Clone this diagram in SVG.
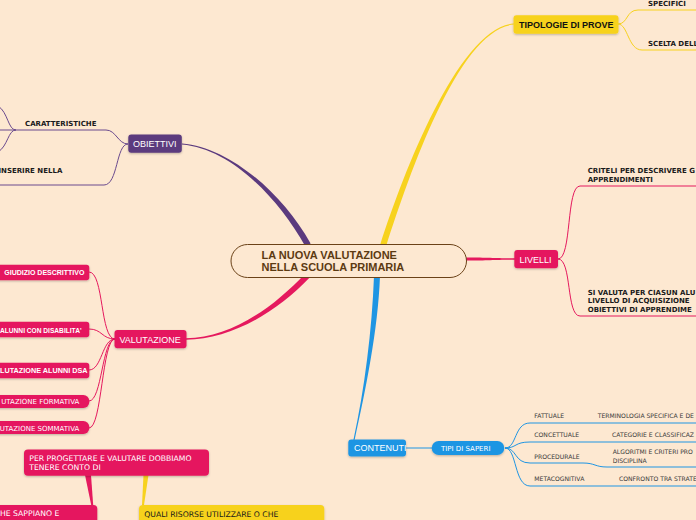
<svg xmlns="http://www.w3.org/2000/svg" width="696" height="520" viewBox="0 0 696 520">
<style>
.lbl{font-family:"Liberation Sans",Arial,sans-serif;fill:#fff;font-size:9px}
.lblb{font-family:"Liberation Sans",Arial,sans-serif;font-weight:bold;fill:#111;font-size:9px}
.sub{font-family:"DejaVu Sans",Verdana,sans-serif;font-weight:bold;font-size:7px;fill:#1a1a1a}
.ts{font-family:"DejaVu Sans",Verdana,sans-serif;font-size:6.1px;fill:#3a3a3a}
.pb{font-family:"Liberation Sans",Arial,sans-serif;font-weight:bold;font-size:7px;fill:#fff}
.pr{font-family:"DejaVu Sans",Verdana,sans-serif;font-size:7px;fill:#fff}
.big{font-family:"DejaVu Sans",Verdana,sans-serif;font-size:7.7px;fill:#fff}
.ln{fill:none;stroke-width:1}
.pk{fill:#e5195e}.pu{fill:#5b3a7e}.ye{fill:#f7d21e}.bl{fill:#1f95e3}
.spk{stroke:#e5195e}.spu{stroke:#6a4a8e}.sye{stroke:#f7d21e}.sbl{stroke:#1f95e3}
</style>
<defs>
<filter id="sh" x="-10%" y="-30%" width="120%" height="180%">
<feDropShadow dx="0" dy="1" stdDeviation="0.8" flood-color="#000" flood-opacity="0.25"/>
</filter>
</defs>
<rect width="696" height="520" fill="#fde8d1"/>
<g id="connectors">
<path class="pu" d="M310.6,243.5 C282.6,193.5 230,147.4 182,143.4 L182,144.6 C230,148.6 277.4,196.5 305.4,246.5 Z"/>
<path class="ye" d="M385.9,246.9 C410.9,168.9 460,28.6 514,24.6 L514,23.4 C460,27.4 405.1,167.1 380.1,245.1 Z"/>
<path class="pk" d="M304.8,273.9 C272.8,307.9 230,338.3 186,338.3 L186,339.7 C230,339.7 277.2,312.1 309.2,278.1 Z"/>
<path class="bl" d="M374,275.9 C372,329.9 364.4,389.9 353.4,439.9 L354.6,440.1 C365.6,390.1 378,330.1 380,276.1 Z"/>
<path class="pk" d="M466,257.5 C490,257.5 495,258.3 515,258.3 L515,259.7 C495,259.7 490,260.5 466,260.5 Z"/>
<path class="ln sye" d="M618,24 C628,24 626,10 638,10 L696,10"/>
<path class="ln sye" d="M618,24 C628,24 628,50 642,50 L696,50"/>
<path class="ln spu" d="M128,144 C118,144 116,130 106,130 L0,130"/>
<path class="ln spu" d="M16,130 C8,130 8,112 -2,106"/>
<path class="ln spu" d="M16,130 C8,130 8,146 -2,152"/>
<path class="ln spu" d="M128,144 C116,144 118,185 104,185 L0,185"/>
<path class="ln spk" d="M115,339 C100,339 104,272 89,272"/>
<path class="ln spk" d="M115,339 C102,339 102,329 89,329"/>
<path class="ln spk" d="M115,339 C102,339 102,370 89,370"/>
<path class="ln spk" d="M115,339 C102,339 102,401 89,401"/>
<path class="ln spk" d="M115,339 C102,339 102,428 89,428"/>
<path class="ln spk" d="M558,259 C572,259 566,186 580,186 L696,186"/>
<path class="ln spk" d="M558,259 C572,259 566,316 580,316 L696,316"/>
<path class="ln sbl" d="M406,448 L432,448"/>
<path class="ln sbl" d="M505,448 C517,448 514,423 530,423 L696,423"/>
<path class="ln sbl" d="M505,448 C517,448 514,442 530,442 L696,442"/>
<path class="ln sbl" d="M505,448 C517,448 514,463 530,463 L583,463 C595,463 595,467 607,467 L696,467"/>
<path class="ln sbl" d="M505,448 C517,448 514,486 530,486 L696,486"/>
<path class="pk" d="M85,475 L91,475 L93.2,505 L91.2,505 Z"/>
<path class="ye" d="M143.5,475 L148.5,475 L144,505 L142,505 Z"/>
</g>
<g id="central">
<rect x="231" y="244.5" width="235.5" height="33" rx="16.5" fill="#fde8d1" stroke="#6b4218" stroke-width="1"/>
<text x="261.5" y="259" font-family="Liberation Sans,Arial,sans-serif" font-weight="bold" font-size="11" fill="#5c3a12">LA NUOVA VALUTAZIONE</text>
<text x="261.5" y="271" font-family="Liberation Sans,Arial,sans-serif" font-weight="bold" font-size="11" fill="#5c3a12">NELLA SCUOLA PRIMARIA</text>
</g>
<g id="tipologie">
<rect class="ye" x="513.5" y="15.3" width="105" height="18.4" rx="3" filter="url(#sh)"/>
<text class="lblb" x="519" y="28">TIPOLOGIE DI PROVE</text>
<text class="sub" x="648" y="6">SPECIFICI</text>
<text class="sub" x="648" y="46">SCELTA DELL</text>
</g>
<g id="obiettivi">
<rect class="pu" x="128.3" y="134.5" width="53.5" height="18.3" rx="3" filter="url(#sh)"/>
<text class="lbl" x="133" y="147">OBIETTIVI</text>
<text class="sub" x="25" y="126">CARATTERISTICHE</text>
<text class="sub" x="62.3" y="173" text-anchor="end">INSERIRE NELLA</text>
</g>
<g id="valutazione">
<rect class="pk" x="114.5" y="330" width="72" height="18.3" rx="3" filter="url(#sh)"/>
<text class="lbl" x="119.5" y="342.5">VALUTAZIONE</text>
</g>
<g id="giudizio">
<rect class="pk" x="-10" y="264.7" width="99.3" height="15.6" rx="3" filter="url(#sh)"/>
<text class="pb" x="4.3" y="275">GIUDIZIO DESCRITTIVO</text>
</g>
<g id="disabilita">
<rect class="pk" x="-10" y="321.7" width="99.3" height="15.6" rx="3" filter="url(#sh)"/>
<text class="pb" x="0" y="332.5" textLength="81.5" lengthAdjust="spacingAndGlyphs">ALUNNI CON DISABILITA'</text>
</g>
<g id="dsa">
<rect class="pk" x="-10" y="362.7" width="99.3" height="15.6" rx="3" filter="url(#sh)"/>
<text class="pb" x="0" y="373" textLength="87.5" lengthAdjust="spacingAndGlyphs">LUTAZIONE ALUNNI DSA</text>
</g>
<g id="formativa">
<rect class="pk" x="-10" y="395" width="99.3" height="13" rx="6" filter="url(#sh)"/>
<text class="pr" x="79.3" y="404.3" text-anchor="end">UTAZIONE FORMATIVA</text>
</g>
<g id="sommativa">
<rect class="pk" x="-10" y="421" width="99.3" height="13" rx="6" filter="url(#sh)"/>
<text class="pr" x="79.3" y="430.5" text-anchor="end">UTAZIONE SOMMATIVA</text>
</g>
<g id="livelli">
<rect class="pk" x="514.3" y="250" width="43.7" height="18.3" rx="3" filter="url(#sh)"/>
<text class="lbl" x="519.5" y="262.5">LIVELLI</text>
<text class="sub" x="587.7" y="173">CRITELI PER DESCRIVERE G</text>
<text class="sub" x="587.7" y="182">APPRENDIMENTI</text>
<text class="sub" x="587.7" y="294.5">SI VALUTA PER CIASUN ALU</text>
<text class="sub" x="587.7" y="303">LIVELLO DI ACQUISIZIONE</text>
<text class="sub" x="587.7" y="312">OBIETTIVI DI APPRENDIME</text>
</g>
<g id="contenuti">
<rect class="bl" x="348.3" y="439.5" width="57.7" height="17" rx="3" filter="url(#sh)"/>
<text class="lbl" x="354" y="451" font-size="8.2">CONTENUTI</text>
</g>
<g id="tipi">
<rect class="bl" x="431.7" y="441" width="72.6" height="14" rx="7" filter="url(#sh)"/>
<text class="pr" x="441" y="450.8" font-size="7.5">TIPI DI SAPERI</text>
<text class="ts" x="534.3" y="417.5">FATTUALE</text>
<text class="ts" x="597.7" y="417.5">TERMINOLOGIA SPECIFICA E DE</text>
<text class="ts" x="534.3" y="437">CONCETTUALE</text>
<text class="ts" x="612" y="437">CATEGORIE E CLASSIFICAZ</text>
<text class="ts" x="534.3" y="459">PROCEDURALE</text>
<text class="ts" x="612.7" y="454.3">ALGORITMI E CRITERI PRO</text>
<text class="ts" x="612.7" y="462.6">DISCIPLINA</text>
<text class="ts" x="534.3" y="481">METACOGNITIVA</text>
<text class="ts" x="619" y="481">CONFRONTO TRA STRATE</text>
</g>
<g id="progettare">
<rect class="pk" x="24" y="449.5" width="185" height="26.2" rx="4" filter="url(#sh)"/>
<text class="big" x="29.3" y="460.8">PER PROGETTARE E VALUTARE DOBBIAMO</text>
<text class="big" x="29.3" y="470.2">TENERE CONTO DI</text>
</g>
<g id="sappiano">
<rect class="pk" x="-6" y="505" width="103.3" height="24" rx="4" filter="url(#sh)"/>
<text class="big" x="0" y="516">HE SAPPIANO E</text>
</g>
<g id="risorse">
<rect class="ye" x="139" y="505" width="185.3" height="24" rx="4" filter="url(#sh)"/>
<text class="big" x="144.3" y="516.5" style="fill:#1a1a1a">QUALI RISORSE UTILIZZARE O CHE</text>
</g>
</svg>
